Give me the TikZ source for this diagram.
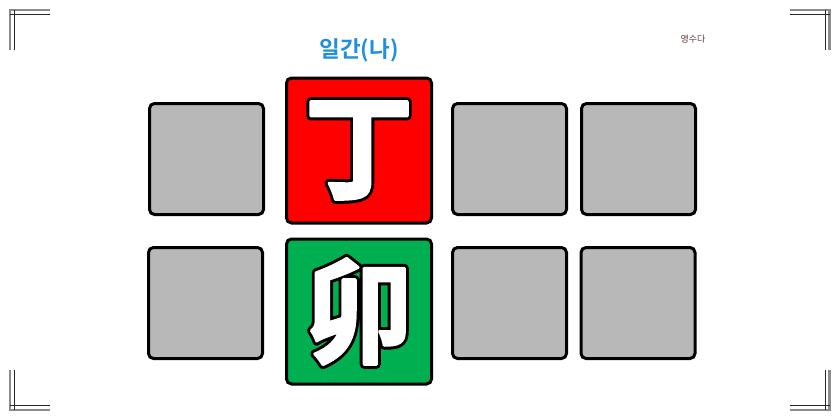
\documentclass[tikz,border=0pt]{standalone}
\usepackage{fontspec}
\newfontfamily\krfont{Noto Sans CJK KR}
\newfontfamily\krbfont{Noto Sans CJK KR Bold}
\newfontfamily\hanfont{Noto Sans CJK SC Bold}
\definecolor{boxgray}{RGB}{184,184,184}
\definecolor{boxred}{RGB}{255,0,0}
\definecolor{boxgreen}{RGB}{0,176,80}
\definecolor{titleblue}{RGB}{30,144,220}
\definecolor{marktext}{RGB}{100,60,60}
\definecolor{cornergray}{RGB}{140,140,140}
% outlined glyph: black thick stroke underneath, white fill with thin white stroke on top
\newcommand{\outlinedglyph}[1]{%
  \rlap{\color{black}\special{pdf:literal direct 2 Tr 9 w 1 j 1 J 0 G}#1\special{pdf:literal direct 0 Tr 1 w}}%
  {\color{white}\special{pdf:literal direct 2 Tr 3 w 1 j 1 J 1 G}#1\special{pdf:literal direct 0 Tr 1 w 0 G}}}
\tikzset{
  cell/.style={draw=black, line width=3pt, rounded corners=5pt, inner sep=0pt, minimum width=114pt, minimum height=111pt},
  bigcell/.style={cell, minimum width=145pt, minimum height=145pt},
  glyph/.style={inner sep=0pt, font=\fontsize{114}{114}\hanfont, xscale=0.95},
  cornerthick/.style={draw=cornergray, line width=2.5pt},
  cornerthin/.style={draw=black!85, line width=1.2pt}
}
\begin{document}
\begin{tikzpicture}[x=1pt,y=-1pt]
\useasboundingbox (0,0) rectangle (840,420);
\fill[white] (0,0) rectangle (840,420);
% corner marks
\coordinate (tl1) at (9,10); \coordinate (tl2) at (50,10); \coordinate (tl3) at (10,9); \coordinate (tl4) at (10,50);
\draw[cornerthick] (tl2) -- (tl1); \draw[cornerthick] (tl3) -- (tl4);
\coordinate (tl5) at (10,14.3); \coordinate (tl6) at (50,14.3); \coordinate (tl7) at (14.3,10); \coordinate (tl8) at (14.3,50);
\draw[cornerthin] (tl5) -- (tl6); \draw[cornerthin] (tl7) -- (tl8);
\coordinate (tr1) at (790,10); \coordinate (tr2) at (831,10); \coordinate (tr3) at (829.5,9); \coordinate (tr4) at (829.5,50);
\draw[cornerthick] (tr1) -- (tr2); \draw[cornerthick] (tr3) -- (tr4);
\coordinate (tr5) at (790,14.3); \coordinate (tr6) at (830,14.3); \coordinate (tr7) at (825.7,10); \coordinate (tr8) at (825.7,50);
\draw[cornerthin] (tr5) -- (tr6); \draw[cornerthin] (tr7) -- (tr8);
\coordinate (bl1) at (9,410); \coordinate (bl2) at (50,410); \coordinate (bl3) at (10,370); \coordinate (bl4) at (10,411);
\draw[cornerthick] (bl1) -- (bl2); \draw[cornerthick] (bl3) -- (bl4);
\coordinate (bl5) at (10,405.7); \coordinate (bl6) at (50,405.7); \coordinate (bl7) at (14.3,370); \coordinate (bl8) at (14.3,410);
\draw[cornerthin] (bl5) -- (bl6); \draw[cornerthin] (bl7) -- (bl8);
\coordinate (br1) at (790,410); \coordinate (br2) at (831,410); \coordinate (br3) at (829.5,370); \coordinate (br4) at (829.5,411);
\draw[cornerthick] (br1) -- (br2); \draw[cornerthick] (br3) -- (br4);
\coordinate (br5) at (790,405.7); \coordinate (br6) at (830,405.7); \coordinate (br7) at (825.7,370); \coordinate (br8) at (825.7,410);
\draw[cornerthin] (br5) -- (br6); \draw[cornerthin] (br7) -- (br8);
% cells
\node[cell, fill=boxgray] (g1) at (206.5,159) {};
\node[bigcell, fill=boxred] (stem) at (359,150.5) {};
\node[cell, fill=boxgray] (g2) at (509.5,159) {};
\node[cell, fill=boxgray] (g3) at (638.5,159) {};
\node[cell, fill=boxgray] (g4) at (205.5,303) {};
\node[bigcell, fill=boxgreen] (branch) at (359,311.5) {};
\node[cell, fill=boxgray] (g5) at (509.5,303) {};
\node[cell, fill=boxgray] (g6) at (638,303) {};
% glyphs
\node[glyph] (ding) at (stem) {\outlinedglyph{丁}};
\node[glyph] (mao) at (branch) {\outlinedglyph{卯}};
% texts
\node[text=titleblue, font=\fontsize{22.5}{22.5}\krbfont, inner sep=0pt] (title) at (359,50) {일간(나)};
\node[text=marktext, font=\fontsize{9}{9}\krfont, inner sep=0pt] (mark) at (693,39) {영수다};
\end{tikzpicture}
\end{document}
